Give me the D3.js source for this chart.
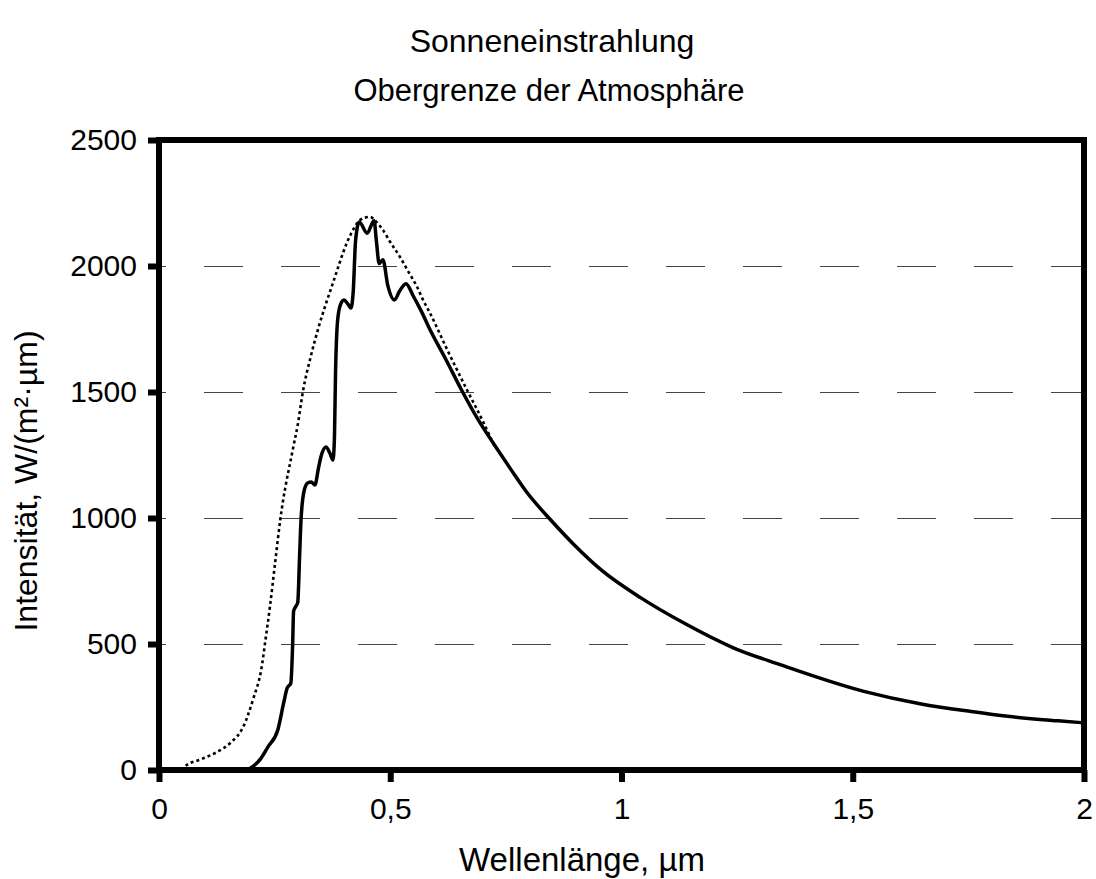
<!DOCTYPE html>
<html>
<head>
<meta charset="utf-8">
<script src="https://cdn.jsdelivr.net/npm/d3@7"></script>
<style>
body { margin:0; background:#fff; }
text { font-family:"Liberation Sans", Arial, sans-serif; fill:#000; }
.axis path { display:none; }
.axis line { stroke:#000; stroke-width:6; }
.axis text { font-size:30px; }
</style>
</head>
<body>
<svg id="chart"></svg>
<script>
// Messwerte am Oberrand der Atmosphaere (Wellenlaenge in um, Intensitaet)
var measuredWave = [0.19,0.20,0.22,0.235,0.257,0.27,0.277,0.285,0.289,0.291,0.296,0.300,0.304,0.307,0.314,0.322,0.329,0.337,0.345,0.350,0.361,0.370,0.376,0.379,0.382,0.386,0.392,0.400,0.408,0.415,0.420,0.425,0.433,0.450,0.465,0.470,0.476,0.484,0.495,0.509,0.520,0.534,0.550,0.566,0.588,0.620,0.653,0.690,0.729,0.760,0.794,0.848,0.898,0.956,1.042,1.135,1.243,1.343,1.524,1.648,1.756,1.835,1.944,2.0];
var measuredInt  = [0,10,45,90,160,270,325,345,500,630,650,665,850,990,1110,1140,1143,1131,1200,1242,1282,1255,1230,1300,1600,1780,1845,1865,1850,1833,1900,2100,2175,2130,2180,2100,2010,2025,1920,1865,1900,1930,1880,1825,1740,1630,1512,1390,1280,1195,1105,990,893,794,683,583,484,418,312,262,232,213,195,187];

// Schwarzer Strahler (gepunktet)
var bodyWave = [0.048,0.06,0.09,0.125,0.154,0.182,0.203,0.223,0.229,0.240,0.251,0.262,0.290,0.300,0.311,0.328,0.344,0.360,0.376,0.390,0.406,0.420,0.435,0.456,0.470,0.484,0.500,0.521,0.540,0.558,0.571,0.586,0.620,0.666,0.700,0.726];
var bodyInt  = [0,20,42,71,107,171,278,420,500,650,821,990,1278,1370,1500,1640,1750,1845,1932,2010,2091,2145,2183,2195,2175,2143,2095,2036,1975,1917,1865,1813,1680,1508,1385,1282];

var xTicks = [0,0.5,1,1.5,2];
var yTicks = [0,500,1000,1500,2000,2500];
var gridTicks = [500,1000,1500,2000];

var screen = {width:1096,height:879}
var plot = {left:159,right:1084,top:140,bottom:770}

var svg = d3.select("#chart")
    .attr("width",screen.width)
    .attr("height",screen.height)

var xScale = d3.scaleLinear()
    .domain([0,2])
    .range([plot.left,plot.right])

var yScale = d3.scaleLinear()
    .domain([0,2500])
    .range([plot.bottom,plot.top])

// gestrichelte Gitterlinien
svg.append("g")
    .selectAll("line")
    .data(gridTicks)
    .enter()
    .append("line")
    .attr("x1",plot.left)
    .attr("x2",plot.right)
    .attr("y1",function(d){ return Math.round(yScale(d))+0.5 })
    .attr("y2",function(d){ return Math.round(yScale(d))+0.5 })
    .attr("stroke","#444")
    .attr("stroke-width",1)
    .attr("stroke-dasharray","39,38")
    .attr("stroke-dashoffset",32)

var toPoints = function(wave,vals)
{
    return wave.map(function(w,i){ return {x:w,y:vals[i]} })
}

var line = d3.line()
    .x(function(d){ return xScale(d.x) })
    .y(function(d){ return yScale(d.y) })
    .curve(d3.curveMonotoneX)

svg.append("path")
    .datum(toPoints(bodyWave,bodyInt))
    .attr("d",line)
    .attr("fill","none")
    .attr("stroke","#000")
    .attr("stroke-width",2.6)
    .attr("stroke-dasharray","3,3")

svg.append("path")
    .datum(toPoints(measuredWave,measuredInt))
    .attr("d",line)
    .attr("fill","none")
    .attr("stroke","#000")
    .attr("stroke-width",3.5)
    .attr("stroke-linejoin","round")

// Rahmen
svg.append("rect")
    .attr("x",plot.left)
    .attr("y",plot.top)
    .attr("width",plot.right-plot.left)
    .attr("height",plot.bottom-plot.top)
    .attr("fill","none")
    .attr("stroke","#000")
    .attr("stroke-width",6)

var xAxis = d3.axisBottom(xScale)
    .tickValues(xTicks)
    .tickSize(12)
    .tickPadding(16)
    .tickFormat(function(d){ return String(d).replace(".",",") })
svg.append("g")
    .attr("class","axis")
    .attr("transform","translate(0,"+plot.bottom+")")
    .call(xAxis)

var yAxis = d3.axisLeft(yScale)
    .tickValues(yTicks)
    .tickSize(11)
    .tickPadding(11)
    .tickFormat(d3.format("d"))
svg.append("g")
    .attr("class","axis")
    .attr("transform","translate("+plot.left+",0)")
    .call(yAxis)

// Beschriftungen
svg.append("text")
    .text("Sonneneinstrahlung")
    .attr("text-anchor","middle")
    .attr("x",552)
    .attr("y",52)
    .style("font-size","32px")

svg.append("text")
    .text("Obergrenze der Atmosphäre")
    .attr("text-anchor","middle")
    .attr("x",549)
    .attr("y",101)
    .style("font-size","31px")

svg.append("text")
    .text("Wellenlänge, µm")
    .attr("text-anchor","middle")
    .attr("x",582)
    .attr("y",871)
    .style("font-size","33px")

svg.append("text")
    .text("Intensität, W/(m²·µm)")
    .attr("text-anchor","middle")
    .attr("transform","translate(37,481) rotate(-90)")
    .style("font-size","32px")
</script>
</body>
</html>
